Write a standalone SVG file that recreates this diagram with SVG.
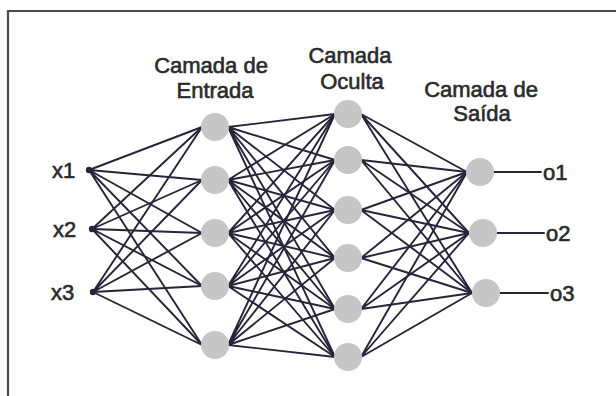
<svg xmlns="http://www.w3.org/2000/svg" width="616" height="396" viewBox="0 0 616 396">
  <style>
    .frame { stroke: #4a4a4a; stroke-width: 2.2; fill: none; }
    .edge { stroke: #25253a; stroke-width: 1.9; fill: none; stroke-linecap: round; }
    .neuron { fill: #c6c6c6; }
    .dot { fill: #25253a; }
    .title { font-family: "Liberation Sans", Arial, sans-serif; font-size: 22px; fill: #2a2a2a; stroke: #2a2a2a; stroke-width: 0.6; text-anchor: middle; }
    .io { font-family: "Liberation Sans", Arial, sans-serif; font-size: 22px; fill: #2a2a2a; stroke: #2a2a2a; stroke-width: 0.6; }
  </style>

  <rect width="616" height="396" fill="#ffffff"/>
  <!-- open frame: top and left rules only -->
  <path class="frame" d="M8 396 V11 H616"/>

  <!-- layer titles -->
  <g id="title-entrada">
    <text class="title" x="211" y="73">Camada de</text>
    <text class="title" x="215" y="98">Entrada</text>
  </g>
  <g id="title-oculta">
    <text class="title" x="350" y="63">Camada</text>
    <text class="title" x="352" y="89">Oculta</text>
  </g>
  <g id="title-saida">
    <text class="title" x="481" y="97">Camada de</text>
    <text class="title" x="482" y="121">Saída</text>
  </g>

  <!-- connectors -->
  <g id="connectors">
    <!-- inputs to input layer -->
    <path class="edge" d="M89 170 L202 127 M89 170 L202 180 M89 170 L202 233 M89 170 L202 286 M89 170 L202 345"/>
    <path class="edge" d="M92 229 L202 127 M92 229 L202 180 M92 229 L202 233 M92 229 L202 286 M92 229 L202 345"/>
    <path class="edge" d="M93 292 L202 127 M93 292 L202 180 M93 292 L202 233 M93 292 L202 286 M93 292 L202 345"/>
    <!-- input layer to hidden layer -->
    <path class="edge" d="M228 127 L335 114 M228 127 L335 160 M228 127 L335 210 M228 127 L335 258 M228 127 L335 309 M228 127 L335 357"/>
    <path class="edge" d="M228 180 L335 114 M228 180 L335 160 M228 180 L335 210 M228 180 L335 258 M228 180 L335 309 M228 180 L335 357"/>
    <path class="edge" d="M228 233 L335 114 M228 233 L335 160 M228 233 L335 210 M228 233 L335 258 M228 233 L335 309 M228 233 L335 357"/>
    <path class="edge" d="M228 286 L335 114 M228 286 L335 160 M228 286 L335 210 M228 286 L335 258 M228 286 L335 309 M228 286 L335 357"/>
    <path class="edge" d="M228 345 L335 114 M228 345 L335 160 M228 345 L335 210 M228 345 L335 258 M228 345 L335 309 M228 345 L335 357"/>
    <!-- hidden layer to output layer -->
    <path class="edge" d="M361 114 L467 172 M361 114 L469 233 M361 114 L472 293"/>
    <path class="edge" d="M361 160 L467 172 M361 160 L469 233 M361 160 L472 293"/>
    <path class="edge" d="M361 210 L467 172 M361 210 L469 233 M361 210 L472 293"/>
    <path class="edge" d="M361 258 L467 172 M361 258 L469 233 M361 258 L472 293"/>
    <path class="edge" d="M361 309 L467 172 M361 309 L469 233 M361 309 L472 293"/>
    <path class="edge" d="M361 357 L467 172 M361 357 L469 233 M361 357 L472 293"/>
    <!-- output leads -->
    <path class="edge" d="M494 172 H541 M497 233 H544 M500 293 H548"/>
  </g>

  <!-- inputs -->
  <g id="x1"><circle class="dot" cx="89" cy="170" r="3.2"/><text class="io" x="52" y="178">x1</text></g>
  <g id="x2"><circle class="dot" cx="92" cy="229" r="3.2"/><text class="io" x="53" y="237">x2</text></g>
  <g id="x3"><circle class="dot" cx="93" cy="292" r="3.2"/><text class="io" x="51" y="300">x3</text></g>

  <!-- input layer -->
  <g id="e1"><circle class="neuron" cx="215" cy="127" r="14"/></g>
  <g id="e2"><circle class="neuron" cx="215" cy="180" r="14"/></g>
  <g id="e3"><circle class="neuron" cx="215" cy="233" r="14"/></g>
  <g id="e4"><circle class="neuron" cx="215" cy="286" r="14"/></g>
  <g id="e5"><circle class="neuron" cx="215" cy="345" r="14"/></g>

  <!-- hidden layer -->
  <g id="h1"><circle class="neuron" cx="348" cy="114" r="14"/></g>
  <g id="h2"><circle class="neuron" cx="348" cy="160" r="14"/></g>
  <g id="h3"><circle class="neuron" cx="348" cy="210" r="14"/></g>
  <g id="h4"><circle class="neuron" cx="348" cy="258" r="14"/></g>
  <g id="h5"><circle class="neuron" cx="348" cy="309" r="14"/></g>
  <g id="h6"><circle class="neuron" cx="348" cy="357" r="14"/></g>

  <!-- output layer -->
  <g id="s1"><circle class="neuron" cx="480" cy="172" r="14"/><text class="io" x="543" y="180">o1</text></g>
  <g id="s2"><circle class="neuron" cx="483" cy="233" r="14"/><text class="io" x="546" y="241">o2</text></g>
  <g id="s3"><circle class="neuron" cx="486" cy="293" r="14"/><text class="io" x="550" y="301">o3</text></g>
</svg>
